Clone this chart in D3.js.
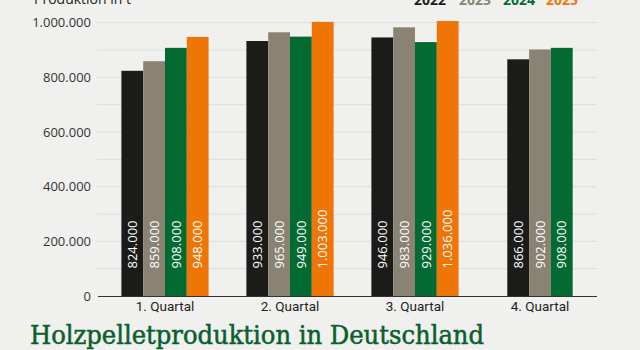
<!DOCTYPE html>
<html><head><meta charset="utf-8">
<script src="https://cdn.jsdelivr.net/npm/d3@7"></script>
<style>
html,body{margin:0;padding:0;background:#f0f1ee;}
svg{display:block;}
</style></head>
<body>
<svg id="c" width="640" height="350"></svg>
<script>
const quarters = ["1. Quartal","2. Quartal","3. Quartal","4. Quartal"];
const years = ["2022","2023","2024","2025"];
const v2022 = [824000, 933000, 946000, 866000];
const v2023 = [859000, 965000, 983000, 902000];
const v2024 = [908000, 949000, 929000, 908000];
const v2025 = [948000, 1003000, 1036000, null];
const yTicks = [0, 200000, 400000, 600000, 800000, 1000000];
const gridTicks = [100000,200000,300000,400000,500000,600000,700000,800000,900000,1000000];
const colors = ["#1b1b19", "#8a8373", "#036a32", "#ef7506"];
const title = "Holzpelletproduktion in Deutschland";
const yTitle = "Produktion in t";

const series = [v2022, v2023, v2024, v2025];
const fmt = n => d3.format(",")(n).replace(/,/g, ".");

const svg = d3.select("#c");
svg.append("rect").attr("width",640).attr("height",350).attr("fill","#f0f1ee");

const x = d3.scaleBand().domain(quarters).range([102.5, 602.5]);
const y = d3.scaleLinear().domain([0, 1000000]).range([296, 22.7]);

// gridlines
svg.append("g").selectAll("line").data(gridTicks).join("line")
  .attr("x1", 97).attr("x2", 597)
  .attr("y1", d => y(d)).attr("y2", d => y(d))
  .attr("stroke", "#dcdddb").attr("stroke-width", 1);

// y axis labels
const yAxis = svg.append("g").attr("transform","translate(91,0)")
  .call(d3.axisLeft(y).tickValues(yTicks).tickFormat(fmt).tickSize(0).tickPadding(0));
yAxis.select(".domain").remove();
yAxis.selectAll("text").attr("font-family","Open Sans").attr("font-size",13).attr("fill","#333");

// clip for plot area
svg.append("clipPath").attr("id","plot").append("rect")
  .attr("x", 90).attr("y", 21).attr("width", 520).attr("height", 276);

const barW = 21.8;
const g = svg.append("g").attr("clip-path","url(#plot)");
quarters.forEach((q, qi) => {
  const present = years.map((yr, si) => ({yr, si, v: series[si][qi]})).filter(d => d.v != null);
  const cx = x(q) + x.bandwidth()/2;
  const inner = d3.scaleBand().domain(present.map(d => d.yr))
    .range([cx - barW*present.length/2, cx + barW*present.length/2]);
  const grp = g.append("g");
  grp.selectAll("rect").data(present).join("rect")
    .attr("x", d => inner(d.yr)).attr("width", inner.bandwidth())
    .attr("y", d => y(d.v)).attr("height", d => y(0) - y(d.v))
    .attr("fill", d => colors[d.si]);
  grp.selectAll("text").data(present).join("text")
    .attr("transform", d => `translate(${inner(d.yr) + inner.bandwidth()/2 + 4.6},${y(0) - 27.5}) rotate(-90)`)
    .attr("font-family","Open Sans").attr("font-size",13).attr("fill","#fff")
    .text(d => fmt(d.v));
});

// baseline
svg.append("line").attr("x1",98).attr("x2",597).attr("y1",296.5).attr("y2",296.5)
  .attr("stroke","#333").attr("stroke-width",1);

// x axis labels
const xAxis = svg.append("g").attr("transform","translate(0,297)")
  .call(d3.axisBottom(x).tickSize(0).tickPadding(4));
xAxis.select(".domain").remove();
xAxis.selectAll("text").attr("font-family","Roboto").attr("font-size",13.5).attr("fill","#222");

// y title
svg.append("text").attr("x",34).attr("y",4).attr("font-family","Open Sans").attr("font-size",14)
  .attr("fill","#222").text(yTitle);

// legend
const legX = [414, 459, 503, 546];
svg.append("g").selectAll("text").data(years).join("text")
  .attr("x",(d,i)=>legX[i]).attr("y",5)
  .attr("font-family","Open Sans").attr("font-weight","bold").attr("font-size",14)
  .attr("fill",(d,i)=>colors[i]).text(d=>d);

// title
svg.append("text").attr("x",30).attr("y",344)
  .attr("font-family","'DejaVu Serif Condensed', 'DejaVu Serif'").attr("font-size",26)
  .attr("fill","#0b5f2e").attr("stroke","#0b5f2e").attr("stroke-width",0.5)
  .attr("textLength", 454).attr("lengthAdjust","spacingAndGlyphs")
  .text(title);
</script>
</body></html>
